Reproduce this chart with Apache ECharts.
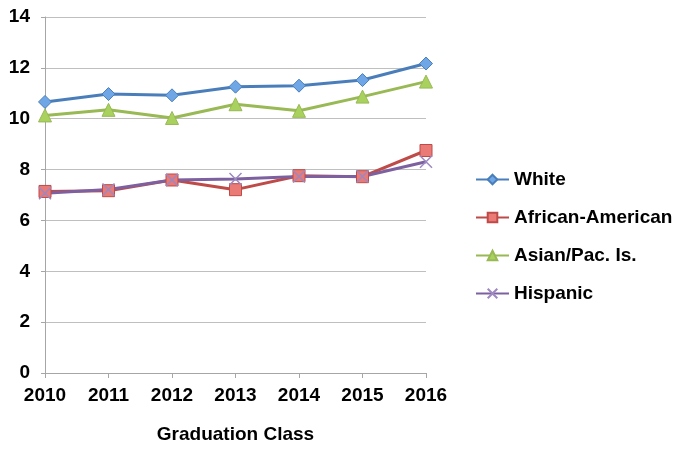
<!DOCTYPE html>
<html><head><meta charset="utf-8">
<script src="https://cdn.jsdelivr.net/npm/echarts@6/dist/echarts.min.js"></script>
<style>html,body{margin:0;padding:0;background:#fff}#c{width:676px;height:449px}</style>
</head><body><div id="c"></div>
<script>
const categories = ['2010','2011','2012','2013','2014','2015','2016'];
const white = [10.66, 10.97, 10.92, 11.26, 11.30, 11.52, 12.17];
const african = [7.14, 7.17, 7.59, 7.21, 7.76, 7.72, 8.75];
const asian = [10.13, 10.35, 10.03, 10.57, 10.31, 10.87, 11.46];
const hispanic = [7.07, 7.22, 7.59, 7.63, 7.73, 7.73, 8.31];
const seriesNames = ['White','African-American','Asian/Pac. Is.','Hispanic'];

const font = '"Liberation Sans", Arial, sans-serif';
function mk(name, data, color, fill, symbol, size) {
  return {
    name, type: 'line', data, symbol, symbolSize: size,
    lineStyle: { color, width: 3 },
    itemStyle: { color: fill, borderColor: color, borderWidth: 1 },
    emphasis: { disabled: true }
  };
}
const chart = echarts.init(document.getElementById('c'));
chart.setOption({
  animation: false,
  textStyle: { fontFamily: font },
  grid: { left: 45, right: 250, top: 17, bottom: 72, containLabel: false },
  xAxis: {
    type: 'category', data: categories, boundaryGap: false,
    name: 'Graduation Class', nameLocation: 'middle', nameGap: 52,
    nameTextStyle: { fontSize: 19, fontWeight: 'bold', color: '#000', fontFamily: font },
    axisLine: { lineStyle: { color: '#a6a6a6', width: 1 } },
    axisTick: { show: true, alignWithLabel: true, length: 5, lineStyle: { color: '#a6a6a6' } },
    axisLabel: { fontSize: 19, fontWeight: 'bold', color: '#000', margin: 13, fontFamily: font }
  },
  yAxis: {
    type: 'value', min: 0, max: 14, interval: 2,
    axisLine: { show: true, lineStyle: { color: '#a6a6a6' } },
    axisTick: { show: true, length: 4, lineStyle: { color: '#a6a6a6' } },
    axisLabel: { fontSize: 19, fontWeight: 'bold', color: '#000', margin: 15, fontFamily: font },
    splitLine: { lineStyle: { color: '#bfbfbf', width: 1 } }
  },
  legend: {
    orient: 'vertical', left: 470, top: 165, itemGap: 19,
    itemWidth: 33, itemHeight: 12,
    textStyle: { fontSize: 19, fontWeight: 'bold', color: '#000', fontFamily: font },
    data: seriesNames
  },
  series: [
    mk(seriesNames[0], white, '#4a7ebb', '#6ea6e6', 'diamond', 13),
    mk(seriesNames[1], african, '#be4b48', '#e97a76', 'rect', 12),
    mk(seriesNames[2], asian, '#98b954', '#a9d15e', 'triangle', 13),
    Object.assign(mk(seriesNames[3], hispanic, '#7d60a0', '#7d60a0', 'path://M0,0L10,10M10,0L0,10', 12),
      { itemStyle: { color: 'none', borderColor: '#9d88c0', borderWidth: 1.5 } })
  ]
});
</script></body></html>
